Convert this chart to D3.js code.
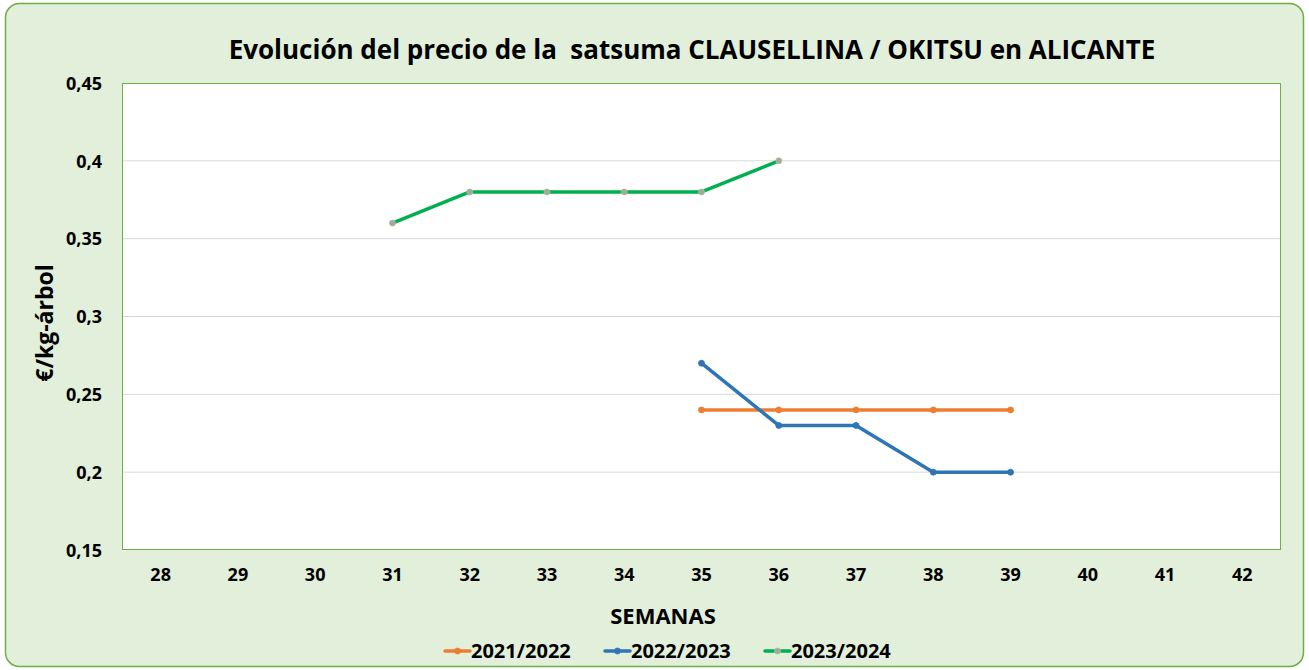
<!DOCTYPE html>
<html><head><meta charset="utf-8">
<script src="https://cdn.jsdelivr.net/npm/d3@7"></script>
<style>body{margin:0;background:#fff}svg{display:block}text{font-family:"Open Sans","Liberation Sans",sans-serif;font-weight:bold;fill:#000}</style>
</head><body><svg id="c" width="1309" height="670"></svg>
<script>
const weeks = [28,29,30,31,32,33,34,35,36,37,38,39,40,41,42];
const yTicks = [0.15,0.2,0.25,0.3,0.35,0.4,0.45];
const yTickLabels = ["0,15","0,2","0,25","0,3","0,35","0,4","0,45"];
const s2122Weeks = [35,36,37,38,39];
const s2122Vals = [0.24,0.24,0.24,0.24,0.24];
const s2223Weeks = [35,36,37,38,39];
const s2223Vals = [0.27,0.23,0.23,0.20,0.20];
const s2324Weeks = [31,32,33,34,35,36];
const s2324Vals = [0.36,0.38,0.38,0.38,0.38,0.40];
const seriesNames = ["2021/2022","2022/2023","2023/2024"];

const series = [
  {name:seriesNames[0], w:s2122Weeks, v:s2122Vals, color:"#ed7d31", mfill:"#ed7d31", mstroke:"#ed7d31"},
  {name:seriesNames[1], w:s2223Weeks, v:s2223Vals, color:"#2e75b6", mfill:"#2e75b6", mstroke:"#2e75b6"},
  {name:seriesNames[2], w:s2324Weeks, v:s2324Vals, color:"#00b050", mfill:"#a5a5a5", mstroke:"#9dc88a"}
];

const svg = d3.select("#c");
svg.append("rect").attr("x",5.5).attr("y",3.5).attr("width",1298).attr("height",663).attr("rx",14)
  .attr("fill","#e2efda").attr("stroke","#70ad47").attr("stroke-width",1.5);

const L=122, R=1281, T=83, B=550;
const x = d3.scaleBand().domain(weeks).range([L,R]);
const y = d3.scaleLinear().domain([0.15,0.45]).range([B,T]);

svg.append("rect").attr("x",L).attr("y",T).attr("width",R-L).attr("height",B-T).attr("fill","#fff");

// gridlines
svg.append("g").selectAll("line").data(yTicks.slice(1,-1)).join("line")
  .attr("x1",L).attr("x2",R).attr("y1",d=>y(d)).attr("y2",d=>y(d))
  .attr("stroke","#d9d9d9").attr("stroke-width",1);

svg.append("rect").attr("x",L+0.5).attr("y",T+0.5).attr("width",R-L-1).attr("height",B-T-1)
  .attr("fill","none").attr("stroke","#70ad47").attr("stroke-width",1);

// y axis labels
const yAxis = d3.axisLeft(y).tickValues(yTicks).tickFormat((d,i)=>yTickLabels[i]).tickSize(0).tickPadding(20);
const gy = svg.append("g").attr("transform",`translate(${L},0)`).call(yAxis);
gy.select(".domain").remove();
gy.selectAll("text").style("font-size","18px").attr("font-family",null).attr("fill","#000").attr("dy","0.35em");

// x axis labels
const xAxis = d3.axisBottom(x).tickSize(0).tickPadding(18);
const gx = svg.append("g").attr("transform",`translate(0,${B})`).call(xAxis);
gx.select(".domain").remove();
gx.selectAll("text").style("font-size","18px").attr("font-family",null).attr("fill","#000");

// lines
const line = d3.line().x(d=>x(d[0])+x.bandwidth()/2).y(d=>y(d[1]));
series.forEach(s=>{
  const pts = s.w.map((w,i)=>[w,s.v[i]]);
  svg.append("path").datum(pts).attr("d",line).attr("fill","none")
    .attr("stroke",s.color).attr("stroke-width",3.5).attr("stroke-linejoin","round");
  svg.append("g").selectAll("circle").data(pts).join("circle")
    .attr("cx",d=>x(d[0])+x.bandwidth()/2).attr("cy",d=>y(d[1])).attr("r",3)
    .attr("fill",s.mfill).attr("stroke",s.mstroke).attr("stroke-width",0.8);
});

// title
svg.append("text").attr("x",692).attr("y",59).attr("text-anchor","middle").style("font-size","26px")
  .text("Evolución del precio de la  satsuma CLAUSELLINA / OKITSU en ALICANTE").attr("xml:space","preserve");

// axis titles
svg.append("text").attr("x",663).attr("y",624).attr("text-anchor","middle").style("font-size","22px").text("SEMANAS");
svg.append("text").attr("transform","translate(53,323) rotate(-90)").attr("text-anchor","middle").style("font-size","23px").text("€/kg-árbol");

// legend
const legX = [445,605,765];
series.forEach((s,i)=>{
  const g = svg.append("g").attr("transform",`translate(${legX[i]},651)`);
  g.append("line").attr("x1",0).attr("x2",25).attr("y1",0).attr("y2",0).attr("stroke",s.color).attr("stroke-width",3.5).attr("stroke-linecap","round");
  g.append("circle").attr("cx",12.5).attr("cy",0).attr("r",3).attr("fill",s.mfill).attr("stroke",s.mstroke).attr("stroke-width",0.8);
  g.append("text").attr("x",26).attr("y",0).attr("dy","0.35em").style("font-size","20px").text(s.name);
});
</script></body></html>
